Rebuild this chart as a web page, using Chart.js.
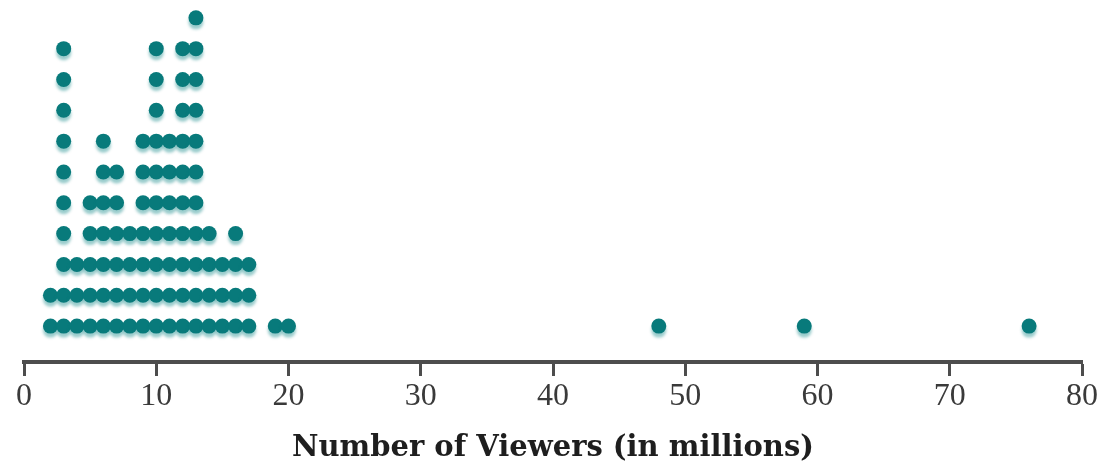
<!DOCTYPE html>
<html>
<head>
<meta charset="utf-8">
<script src="https://cdn.jsdelivr.net/npm/chart.js@4.4.1/dist/chart.umd.min.js"></script>
<style>
  html, body { margin: 0; padding: 0; background: #ffffff; }
  #wrap { width: 1105px; height: 466px; position: relative; }
</style>
</head>
<body>
<div id="wrap"><canvas id="dotplot"></canvas></div>
<script>
// Viewer counts (millions) and how many shows had each count
const viewerValues = [2, 3, 4, 5, 6, 7, 8, 9, 10, 11, 12, 13, 14, 15, 16, 17, 19, 20, 48, 59, 76];
const showCounts   = [2, 10, 3, 5, 7, 6, 4, 7, 10, 7, 10, 11, 4, 3, 4, 3, 1, 1, 1, 1, 1];
const axisTicks    = [0, 10, 20, 30, 40, 50, 60, 70, 80];
const axisTitle    = 'Number of Viewers (in millions)';

// Stack one dot per show above its value
const dots = [];
viewerValues.forEach((v, i) => {
  for (let k = 1; k <= showCounts[i]; k++) dots.push({ x: v, y: k });
});

// Soft teal halo under each dot
const dotShadow = {
  id: 'dotShadow',
  beforeDatasetsDraw(chart) {
    const ctx = chart.ctx;
    ctx.save();
    ctx.shadowColor = 'rgba(0, 128, 128, 0.4)';
    ctx.shadowOffsetY = 4;
    ctx.shadowBlur = 3;
  },
  afterDatasetsDraw(chart) {
    chart.ctx.restore();
  }
};

new Chart(document.getElementById('dotplot'), {
  type: 'scatter',
  data: {
    datasets: [{
      data: dots,
      pointStyle: 'circle',
      pointRadius: 7.5,
      pointHoverRadius: 7.5,
      backgroundColor: '#087a7b',
      borderColor: '#087a7b',
      borderWidth: 0,
      clip: false
    }]
  },
  options: {
    responsive: true,
    maintainAspectRatio: false,
    animation: false,
    events: [],
    layout: { padding: { left: 24, right: 23, top: 0, bottom: 0 } },
    plugins: {
      legend: { display: false },
      tooltip: { enabled: false }
    },
    scales: {
      x: {
        type: 'linear',
        position: 'bottom',
        min: 0,
        max: 80,
        afterBuildTicks(scale) {
          scale.ticks = axisTicks.map(v => ({ value: v }));
        },
        afterFit(scale) { scale.height = 104; },
        border: { display: true, color: '#4d4d4d', width: 4 },
        grid: {
          display: true,
          drawOnChartArea: false,
          drawTicks: true,
          tickLength: 14,
          tickWidth: 3,
          tickColor: '#4d4d4d',
          color: '#4d4d4d'
        },
        ticks: {
          padding: 1,
          color: '#3a3a3a',
          font: { family: 'Liberation Serif', size: 32 },
          maxRotation: 0,
          autoSkip: false
        },
        title: {
          display: true,
          text: axisTitle,
          color: '#1e1e1e',
          font: { family: 'DejaVu Serif', size: 29, weight: 'bold' },
          padding: { top: 0, bottom: 0 }
        }
      },
      y: {
        display: false,
        min: -0.165,
        max: 11.335
      }
    }
  },
  plugins: [dotShadow]
});
</script>
</body>
</html>
